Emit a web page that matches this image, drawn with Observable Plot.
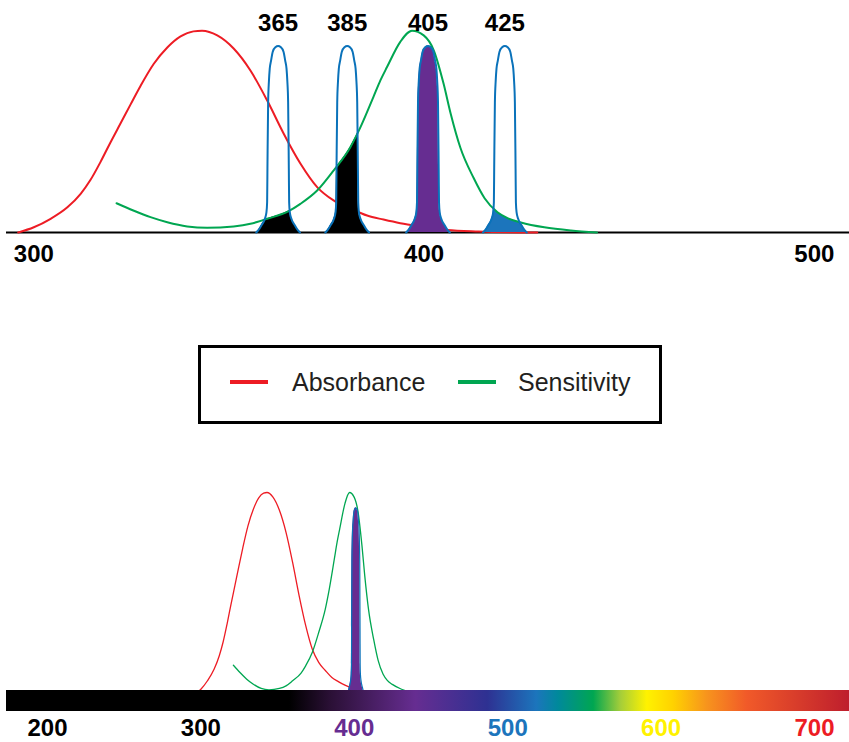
<!DOCTYPE html>
<html>
<head>
<meta charset="utf-8">
<script src="https://cdn.jsdelivr.net/npm/d3@7"></script>
<script src="https://cdn.jsdelivr.net/npm/@observablehq/plot@0.6"></script>
<style>
  html, body { margin: 0; padding: 0; background: #fff; }
  #root { position: relative; width: 849px; height: 742px; overflow: hidden; background: #fff;
          font-family: "Liberation Sans", Arial, Helvetica, sans-serif; }
  .layer { position: absolute; left: 0; }
  #legend { position: absolute; left: 198px; top: 345px; width: 464px; height: 79px;
            box-sizing: border-box; border: 3px solid #000; background: #fff; }
  .sw { position: absolute; height: 4px; width: 38px; }
  .lt { position: absolute; height: 30px; line-height: 30px; font-size: 25px; color: #231f20; white-space: nowrap; }
</style>
</head>
<body>
<div id="root">
  <div id="topPanel" class="layer" style="top:0"></div>
  <div id="legend"></div>
  <div id="bottomPanel" class="layer" style="top:470px"></div>
  <div id="specPanel" class="layer" style="top:690px"></div>
</div>
<script>
// ---------- data ----------
const absColor = "#ed1c24";
const sensColor = "#00a651";
const ledStroke = "#0a72ba";

// Absorbance curve (wavelength nm, relative value)
const absNm  = [296, 300, 304.3, 308.6, 312, 314.5, 317.1, 319.6, 322.2, 324.8, 327.3, 330.7, 334.2, 337.6, 340.9, 343.1, 347, 351.2, 355.5, 359.8, 364, 368.3, 372.6, 376.8, 381.1, 385.4, 389.6, 393.9, 399, 405.9, 414, 429];
const absVal = [0, 0.026, 0.068, 0.125, 0.192, 0.26, 0.35, 0.445, 0.54, 0.635, 0.725, 0.835, 0.917, 0.972, 0.997, 1.0, 0.977, 0.912, 0.803, 0.654, 0.491, 0.342, 0.225, 0.159, 0.119, 0.084, 0.064, 0.046, 0.03, 0.012, 0.005, 0];

// Sensitivity curve
const sensNm  = [321.2, 325.5, 329.9, 334.2, 339.3, 344.4, 351.2, 355.5, 359.8, 365.3, 368.3, 372.6, 376.8, 381.1, 383.7, 387, 388.8, 390.5, 393.9, 396.9, 399.9, 402.5, 405, 406.8, 409.3, 412.7, 415.5, 418.8, 421.5, 424.8, 430.8, 437.6, 444.3];
const sensVal = [0.145, 0.109, 0.076, 0.051, 0.030, 0.023, 0.030, 0.043, 0.068, 0.106, 0.142, 0.208, 0.307, 0.423, 0.522, 0.671, 0.754, 0.820, 0.945, 1.0, 0.977, 0.902, 0.737, 0.590, 0.42, 0.27, 0.17, 0.10, 0.07, 0.05, 0.026, 0.01, 0];

// LED emission bands: names, drawn peak positions, fill colours
const ledNames = ["365", "385", "405", "425"];
const ledPeaks = [362.6, 380.3, 401.0, 420.7];
const ledFills = ["#000000", "#000000", "#662d91", "#1c75bc"];
// LED band profile (offset from peak in nm, relative value)
const ledOffset = [-5.6, -5.1, -4.3, -3.4, -3.0, -2.82, -2.74, -2.56, -2.36, -2.15, -1.8, -1.4, -0.7, 0, 0.7, 1.4, 1.8, 2.15, 2.36, 2.56, 2.74, 2.82, 3.0, 3.4, 4.3, 5.1, 5.6];
const ledValue  = [0, 0.01, 0.035, 0.068, 0.10, 0.15, 0.317, 0.646, 0.75, 0.812, 0.853, 0.895, 0.918, 0.924, 0.918, 0.895, 0.853, 0.812, 0.75, 0.646, 0.317, 0.15, 0.10, 0.068, 0.035, 0.01, 0];
const bottomLed = "405";

// Axes
const topTicks = [300, 400, 500];
const bottomTicks = [200, 300, 400, 500, 600, 700];
const bottomTickColors = ["#000000", "#000000", "#662d91", "#1c75bc", "#fff200", "#ed1c24"];

// Spectrum bar colour stops
const specNm    = [173.3, 358, 385, 440, 487, 519, 533, 556, 574, 591, 608, 630, 656, 722.8];
const specColor = ["#000000", "#000000", "#2b1036", "#662d91", "#2e3192", "#1c75bc", "#00899b", "#00a651", "#a6ce39", "#fff200", "#ffd200", "#f7941d", "#f15a29", "#be1e2d"];

const legendItems = ["Absorbance", "Sensitivity"];
const legendColors = [absColor, sensColor];

// ---------- tables ----------
const absRows = absNm.map((x, i) => ({x, y: absVal[i]}));
const sensRows = sensNm.map((x, i) => ({x, y: sensVal[i]}));
const ledRows = ledNames.flatMap((name, k) =>
  ledOffset.map((o, i) => ({led: name, x: ledPeaks[k] + o, y: ledValue[i], fill: ledFills[k]})));
const ledLabels = ledNames.map((name, k) => ({name, x: ledPeaks[k]}));

const FONT = '"Liberation Sans", Arial, Helvetica, sans-serif';
const baseStyle = {background: "transparent", overflow: "visible", fontFamily: FONT};
const NS = "http://www.w3.org/2000/svg";

// ---------- top panel ----------
const topChart = Plot.plot({
  width: 849, height: 275,
  marginLeft: 6, marginRight: 0, marginTop: 0, marginBottom: 43,
  x: {domain: [293, 509], axis: null},
  y: {domain: [0, 1.15], axis: null},
  color: {type: "identity"},
  style: baseStyle,
  marks: [
    Plot.ruleY([0], {stroke: "#000", strokeWidth: 2}),
    Plot.lineY(absRows, {x: "x", y: "y", stroke: absColor, strokeWidth: 2, curve: "monotone-x"}),
    Plot.areaY(ledRows, {x: "x", y: "y", z: "led", fill: "fill", curve: "monotone-x", ariaDescription: "led-fill"}),
    Plot.lineY(sensRows, {x: "x", y: "y", stroke: sensColor, strokeWidth: 2, curve: "monotone-x"}),
    Plot.lineY(ledRows, {x: "x", y: "y", z: "led", stroke: ledStroke, strokeWidth: 2, curve: "monotone-x"}),
    Plot.areaY(sensRows, {x: "x", y: "y", fill: "#fff", fillOpacity: 0, curve: "monotone-x", ariaDescription: "sens-clip"}),
    Plot.text(ledLabels, {x: "x", text: "name", frameAnchor: "top", lineAnchor: "middle", dy: 23, fontSize: 24, fontWeight: "bold", fill: "#000"}),
    Plot.text(topTicks, {x: d => d, text: d => String(d), frameAnchor: "bottom", lineAnchor: "middle", dy: 22, fontSize: 24, fontWeight: "bold", fill: "#000"})
  ]
});
document.getElementById("topPanel").appendChild(topChart);

// clip LED fills to the area under the sensitivity curve
(function () {
  const areas = topChart.querySelectorAll("g[aria-label='area']");
  const sensG = topChart.querySelector("g[aria-description='sens-clip']") || areas[1];
  const ledG = topChart.querySelector("g[aria-description='led-fill']") || areas[0];
  if (!sensG || !ledG) return;
  const p = sensG.querySelector("path");
  const defs = document.createElementNS(NS, "defs");
  const cp = document.createElementNS(NS, "clipPath");
  cp.setAttribute("id", "sensClipTop");
  const cpp = document.createElementNS(NS, "path");
  cpp.setAttribute("d", p.getAttribute("d"));
  cp.appendChild(cpp);
  defs.appendChild(cp);
  topChart.insertBefore(defs, topChart.firstChild);
  ledG.setAttribute("clip-path", "url(#sensClipTop)");
})();

// ---------- legend ----------
(function () {
  const lg = document.getElementById("legend");
  const swLeft = [29, 257];
  const txtLeft = [91, 317];
  legendItems.forEach((name, i) => {
    const sw = document.createElement("div");
    sw.className = "sw";
    sw.style.left = swLeft[i] + "px";
    sw.style.top = "32px";
    sw.style.background = legendColors[i];
    lg.appendChild(sw);
    const t = document.createElement("div");
    t.className = "lt";
    t.style.left = txtLeft[i] + "px";
    t.style.top = "19px";
    t.textContent = name;
    lg.appendChild(t);
  });
})();

// ---------- bottom panel (curves) ----------
const xDomainBottom = [specNm[0], specNm[specNm.length - 1]];
const bottomChart = Plot.plot({
  width: 849, height: 224,
  marginLeft: 6, marginRight: 0, marginTop: 0, marginBottom: 0,
  x: {domain: xDomainBottom, axis: null},
  y: {domain: [0, 1.109], axis: null},
  color: {type: "identity"},
  style: baseStyle,
  marks: [
    Plot.lineY(absRows, {x: "x", y: "y", stroke: absColor, strokeWidth: 1.3, curve: "monotone-x"}),
    Plot.lineY(sensRows, {x: "x", y: "y", stroke: sensColor, strokeWidth: 1.3, curve: "monotone-x"}),
    Plot.areaY(ledRows.filter(d => d.led === bottomLed), {x: "x", y: "y", fill: "fill", curve: "monotone-x"}),
    Plot.lineY(ledRows.filter(d => d.led === bottomLed), {x: "x", y: "y", stroke: ledStroke, strokeWidth: 1.2, curve: "monotone-x"})
  ]
});
document.getElementById("bottomPanel").appendChild(bottomChart);

// ---------- spectrum bar with axis ----------
const specChart = Plot.plot({
  width: 849, height: 52,
  marginLeft: 6, marginRight: 0, marginTop: 0, marginBottom: 31,
  x: {domain: xDomainBottom, axis: null},
  color: {type: "identity"},
  style: baseStyle,
  marks: [
    Plot.barX([{x1: xDomainBottom[0], x2: xDomainBottom[1]}], {x1: "x1", x2: "x2", fill: "#000", ariaDescription: "spec-bar"}),
    Plot.text(bottomTicks, {x: d => d, text: d => String(d), fill: (d, i) => bottomTickColors[i],
      frameAnchor: "bottom", lineAnchor: "middle", dy: 16.5, fontSize: 24, fontWeight: "bold"})
  ]
});
document.getElementById("specPanel").appendChild(specChart);

(function () {
  const defs = document.createElementNS(NS, "defs");
  const lg = document.createElementNS(NS, "linearGradient");
  lg.setAttribute("id", "specGrad");
  lg.setAttribute("x1", "0"); lg.setAttribute("x2", "1");
  lg.setAttribute("y1", "0"); lg.setAttribute("y2", "0");
  const span = xDomainBottom[1] - xDomainBottom[0];
  specNm.forEach((nm, i) => {
    const s = document.createElementNS(NS, "stop");
    s.setAttribute("offset", ((nm - xDomainBottom[0]) / span).toFixed(4));
    s.setAttribute("stop-color", specColor[i]);
    lg.appendChild(s);
  });
  defs.appendChild(lg);
  specChart.insertBefore(defs, specChart.firstChild);
  const g = specChart.querySelector("g[aria-description='spec-bar']") || specChart.querySelector("g[aria-label='bar']");
  if (g) {
    g.setAttribute("fill", "url(#specGrad)");
    g.querySelectorAll("rect").forEach(r => r.setAttribute("fill", "url(#specGrad)"));
  }
})();
</script>
</body>
</html>
